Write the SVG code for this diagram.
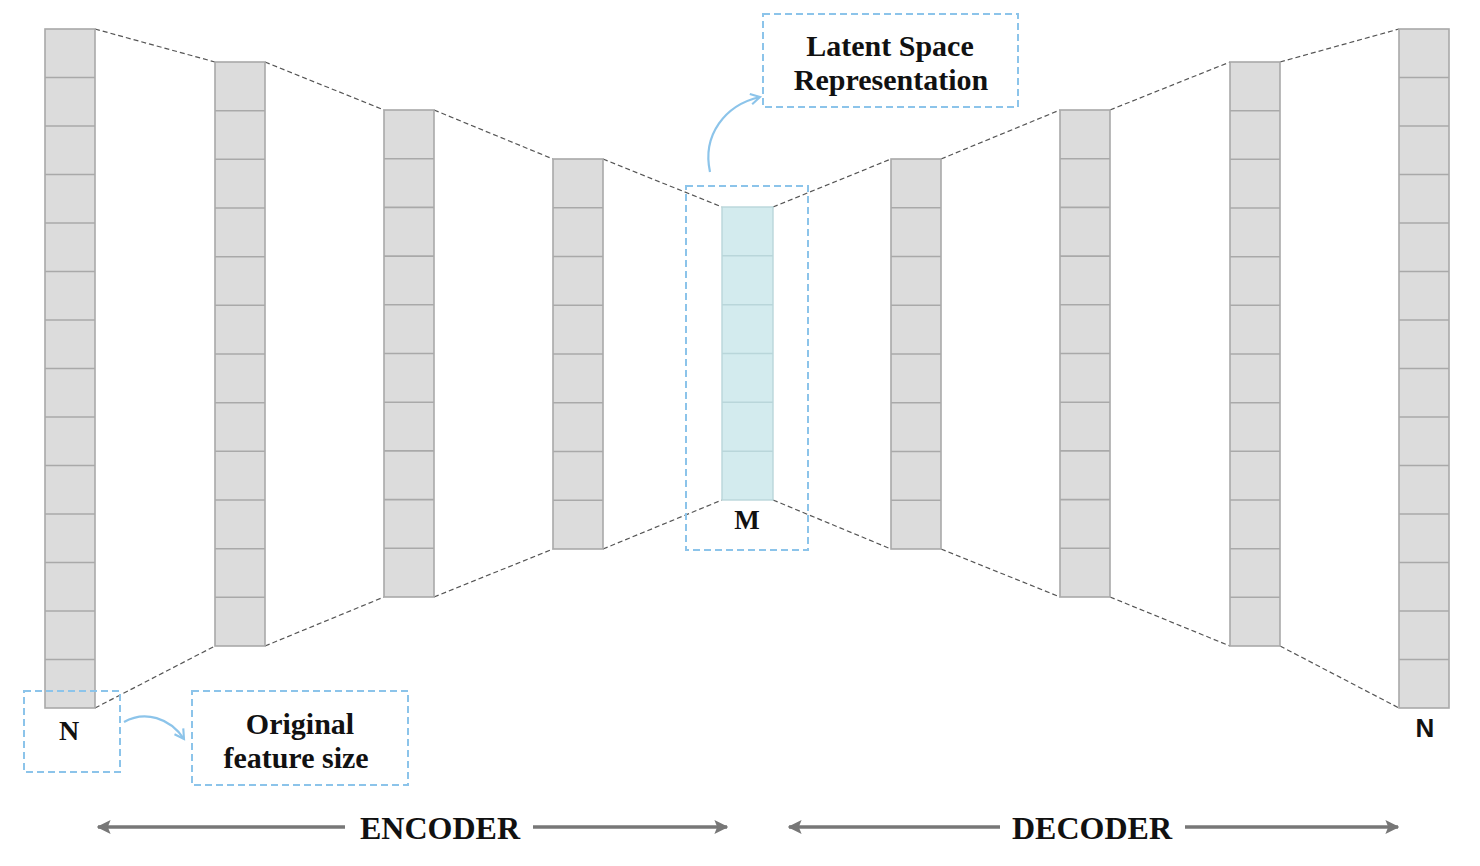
<svg xmlns="http://www.w3.org/2000/svg" width="1480" height="866" viewBox="0 0 1480 866">
<defs>
<style>
.cell{fill:#dcdcdc;stroke:#a9a9a9;stroke-width:1.6}
.lat{fill:#d3ebee;stroke:#b9d6da;stroke-width:1.4}
.con{stroke:#555;stroke-width:1.2;stroke-dasharray:5 3;fill:none}
.box{fill:none;stroke:#8cc4ea;stroke-width:2;stroke-dasharray:7 4}
.lbl{font-family:"Liberation Serif","Times New Roman",serif;font-weight:bold;fill:#111;text-anchor:middle}
.cur{fill:none;stroke:#8cc4ea;stroke-width:2.2}
.axis{stroke:#777;stroke-width:3.5;fill:none}
</style>
<marker id="ah" viewBox="0 0 10 10" refX="9" refY="5" markerWidth="4" markerHeight="4" orient="auto-start-reverse"><path d="M0,0 L10,5 L0,10 L2,5 Z" fill="#777"/></marker>
<marker id="ca" viewBox="0 0 10 10" refX="8" refY="5" markerWidth="6" markerHeight="6" orient="auto"><path d="M1,1 L8,5 L1,9" fill="none" stroke="#8cc4ea" stroke-width="1.6"/></marker>
</defs>
<rect width="1480" height="866" fill="#fff"/>
<g id="connectors">
<path class="con" d="M95,29 L215,62 M95,708 L215,646"/>
<path class="con" d="M265,62 L384,110 M265,646 L384,597"/>
<path class="con" d="M434,110 L553,159 M434,597 L553,549"/>
<path class="con" d="M603,159 L722,207 M603,549 L722,500"/>
<path class="con" d="M773,207 L891,159 M773,500 L891,549"/>
<path class="con" d="M941,159 L1060,110 M941,549 L1060,597"/>
<path class="con" d="M1110,110 L1230,62 M1110,597 L1230,646"/>
<path class="con" d="M1280,62 L1399,29 M1280,646 L1399,708"/>
<path class="cur" d="M710,172 C702,135 725,105 760,97" marker-end="url(#ca)"/>
<path class="cur" d="M124,722 C145,710 170,718 184,739" marker-end="url(#ca)"/>
</g>
<g id="col1"><rect class="cell" x="45" y="29" width="50" height="679"/><path class="cell" d="M45,77.5H95M45,126H95M45,174.5H95M45,223H95M45,271.5H95M45,320H95M45,368.5H95M45,417H95M45,465.5H95M45,514H95M45,562.5H95M45,611H95M45,659.5H95"/></g>
<g id="col2"><rect class="cell" x="215" y="62" width="50" height="584"/><path class="cell" d="M215,110.7H265M215,159.3H265M215,208H265M215,256.7H265M215,305.3H265M215,354H265M215,402.7H265M215,451.3H265M215,500H265M215,548.7H265M215,597.3H265"/></g>
<g id="col3"><rect class="cell" x="384" y="110" width="50" height="487"/><path class="cell" d="M384,158.7H434M384,207.4H434M384,256.1H434M384,304.8H434M384,353.5H434M384,402.2H434M384,450.9H434M384,499.6H434M384,548.3H434"/></g>
<g id="col4"><rect class="cell" x="553" y="159" width="50" height="390"/><path class="cell" d="M553,207.75H603M553,256.5H603M553,305.25H603M553,354H603M553,402.75H603M553,451.5H603M553,500.25H603"/></g>
<g id="latent"><rect class="lat" x="722" y="207" width="51" height="293"/><path class="lat" d="M722,255.8H773M722,304.7H773M722,353.5H773M722,402.3H773M722,451.2H773"/>
<rect class="box" x="686" y="186" width="122" height="364"/><text class="lbl" x="747" y="529" font-size="27">M</text></g>
<g id="col6"><rect class="cell" x="891" y="159" width="50" height="390"/><path class="cell" d="M891,207.75H941M891,256.5H941M891,305.25H941M891,354H941M891,402.75H941M891,451.5H941M891,500.25H941"/></g>
<g id="col7"><rect class="cell" x="1060" y="110" width="50" height="487"/><path class="cell" d="M1060,158.7H1110M1060,207.4H1110M1060,256.1H1110M1060,304.8H1110M1060,353.5H1110M1060,402.2H1110M1060,450.9H1110M1060,499.6H1110M1060,548.3H1110"/></g>
<g id="col8"><rect class="cell" x="1230" y="62" width="50" height="584"/><path class="cell" d="M1230,110.7H1280M1230,159.3H1280M1230,208H1280M1230,256.7H1280M1230,305.3H1280M1230,354H1280M1230,402.7H1280M1230,451.3H1280M1230,500H1280M1230,548.7H1280M1230,597.3H1280"/></g>
<g id="col9"><rect class="cell" x="1399" y="29" width="50" height="679"/><path class="cell" d="M1399,77.5H1449M1399,126H1449M1399,174.5H1449M1399,223H1449M1399,271.5H1449M1399,320H1449M1399,368.5H1449M1399,417H1449M1399,465.5H1449M1399,514H1449M1399,562.5H1449M1399,611H1449M1399,659.5H1449"/>
<text x="1425" y="737" font-family="Liberation Sans, sans-serif" font-weight="bold" font-size="26" text-anchor="middle" fill="#111">N</text></g>
<g id="latent-label"><rect class="box" x="763" y="14" width="255" height="93"/><text class="lbl" x="890" y="56" font-size="30">Latent Space</text><text class="lbl" x="891" y="90" font-size="30">Representation</text></g>
<g id="n-label"><rect class="box" x="24" y="691" width="96" height="81"/><text class="lbl" x="69" y="740" font-size="28">N</text></g>
<g id="orig-label"><rect class="box" x="192" y="691" width="216" height="94"/><text class="lbl" x="300" y="734" font-size="30">Original</text><text class="lbl" x="296" y="768" font-size="30">feature size</text></g>
<g id="encoder"><path class="axis" d="M345,827H98" marker-end="url(#ah)"/><path class="axis" d="M533,827H727" marker-end="url(#ah)"/><text class="lbl" x="440" y="839" font-size="32">ENCODER</text></g>
<g id="decoder"><path class="axis" d="M1000,827H789" marker-end="url(#ah)"/><path class="axis" d="M1185,827H1398" marker-end="url(#ah)"/><text class="lbl" x="1092" y="839" font-size="32">DECODER</text></g>
</svg>
